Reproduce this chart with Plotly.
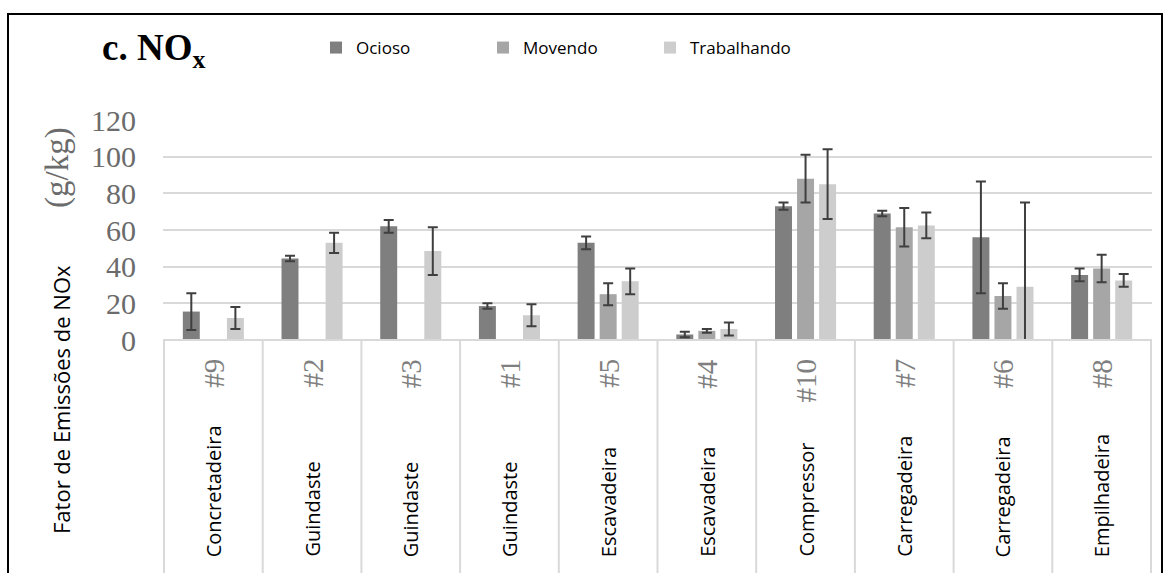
import plotly.graph_objects as go

# Equipment ids (category keys) and their names
units = ["#9", "#2", "#3", "#1", "#5", "#4", "#10", "#7", "#6", "#8"]
machines = ["Concretadeira", "Guindaste", "Guindaste", "Guindaste", "Escavadeira",
            "Escavadeira", "Compressor", "Carregadeira", "Carregadeira", "Empilhadeira"]

# NOx emission factor (g/kg) per operating mode, with error bars
ocioso = [15.5, 44.5, 62, 18.5, 53, 3, 73, 69, 56, 35.5]
ocioso_err = [10, 1.5, 3.5, 1.5, 3.5, 1.5, 2, 1.5, 30.5, 3.5]
movendo = [None, None, None, None, 25, 5, 88, 61.5, 24, 39]
movendo_err = [0, 0, 0, 0, 6, 1, 13, 10.5, 7, 7.5]
trabalhando = [12, 53, 48.5, 13.5, 32, 6, 85, 62.5, 29, 32.5]
trabalhando_err = [6, 5.5, 13, 6, 7, 3.5, 19, 7, 46, 3.5]

y_ticks = [0, 20, 40, 60, 80, 100, 120]

W, H = 1170, 573
L, R, T, B = 163, 18, 120, 233
pw, ph = W - L - R, H - T - B


def px_x(p):
    return (p - L) / pw


def px_y(p):
    return (H - B - p) / ph


err_style = dict(type="data", color="#3f3f3f", thickness=2, width=5, visible=True)

fig = go.Figure()
for name, vals, errs, col in [
    ("Ocioso", ocioso, ocioso_err, "#7f7f7f"),
    ("Movendo", movendo, movendo_err, "#a6a6a6"),
    ("Trabalhando", trabalhando, trabalhando_err, "#cdcdcd"),
]:
    fig.add_trace(go.Bar(
        x=units, y=vals, name=name, marker=dict(color=col, line=dict(width=0)),
        error_y=dict(array=errs, **err_style),
    ))

shapes = []
# category table below the axis
for k in range(len(units) + 1):
    shapes.append(dict(type="line", xref="x", yref="paper", x0=k - 0.5, x1=k - 0.5,
                       y0=0, y1=-1.2, line=dict(color="#d9d9d9", width=2)))
shapes.append(dict(type="line", xref="paper", yref="paper", x0=0, x1=1, y0=0, y1=0,
                   line=dict(color="#d9d9d9", width=2)))
# outer frame
shapes.append(dict(type="path", xref="paper", yref="paper",
                   path=f"M {px_x(8)} {px_y(600)} L {px_x(8)} {px_y(14)} "
                        f"L {px_x(1162)} {px_y(14)} L {px_x(1162)} {px_y(600)}",
                   line=dict(color="#000000", width=2)))

annotations = []
for i, (u, m) in enumerate(zip(units, machines)):
    annotations.append(dict(x=i, y=px_y(357), xref="x", yref="paper", text=u,
                            textangle=-90, showarrow=False, xanchor="center", yanchor="top",
                            font=dict(family="Liberation Serif", size=29, color="#7f7f7f")))
    annotations.append(dict(x=i, y=px_y(559), xref="x", yref="paper", text=m,
                            textangle=-90, showarrow=False, xanchor="center", yanchor="bottom",
                            font=dict(family="Open Sans", size=20, color="#000000")))

annotations.append(dict(x=px_x(57), y=px_y(168), xref="paper", yref="paper", text="(g/kg)",
                        textangle=-90, showarrow=False, xanchor="center", yanchor="middle",
                        font=dict(family="Liberation Serif", size=33, color="#6b6b6b")))
annotations.append(dict(x=px_x(61), y=px_y(400), xref="paper", yref="paper",
                        text="Fator de Emissões de NOx",
                        textangle=-90, showarrow=False, xanchor="center", yanchor="middle",
                        font=dict(family="Open Sans", size=22, color="#000000")))
annotations.append(dict(x=px_x(100), y=px_y(50), xref="paper", yref="paper",
                        text="<b>c. NO<sub>x</sub></b>", showarrow=False,
                        xanchor="left", yanchor="middle",
                        font=dict(family="Liberation Serif", size=37, color="#000000")))

fig.update_layout(
    width=W, height=H,
    margin=dict(l=L, r=R, t=T, b=B),
    paper_bgcolor="white", plot_bgcolor="white",
    font=dict(family="Open Sans", size=16, color="#000000"),
    barmode="group", bargap=0.33, bargroupgap=0.23,
    showlegend=True,
    legend=dict(orientation="h", xref="paper", yref="container",
                x=px_x(316), y=1 - 48 / H, xanchor="left", yanchor="middle",
                entrywidth=122, entrywidthmode="pixels",
                font=dict(family="Open Sans", size=17, color="#000000"),
                bgcolor="rgba(0,0,0,0)"),
    shapes=shapes,
    annotations=annotations,
)
fig.update_xaxes(type="category", showticklabels=False, showgrid=False, showline=False,
                 zeroline=False, ticks="")
fig.update_yaxes(range=[0, 120], tickvals=y_ticks, showgrid=True, gridcolor="#d9d9d9",
                 gridwidth=2, zeroline=False, showline=False, ticks="",
                 ticklabelstandoff=26,
                 tickfont=dict(family="Liberation Serif", size=30, color="#6b6b6b"))

fig.write_html("out.html")
